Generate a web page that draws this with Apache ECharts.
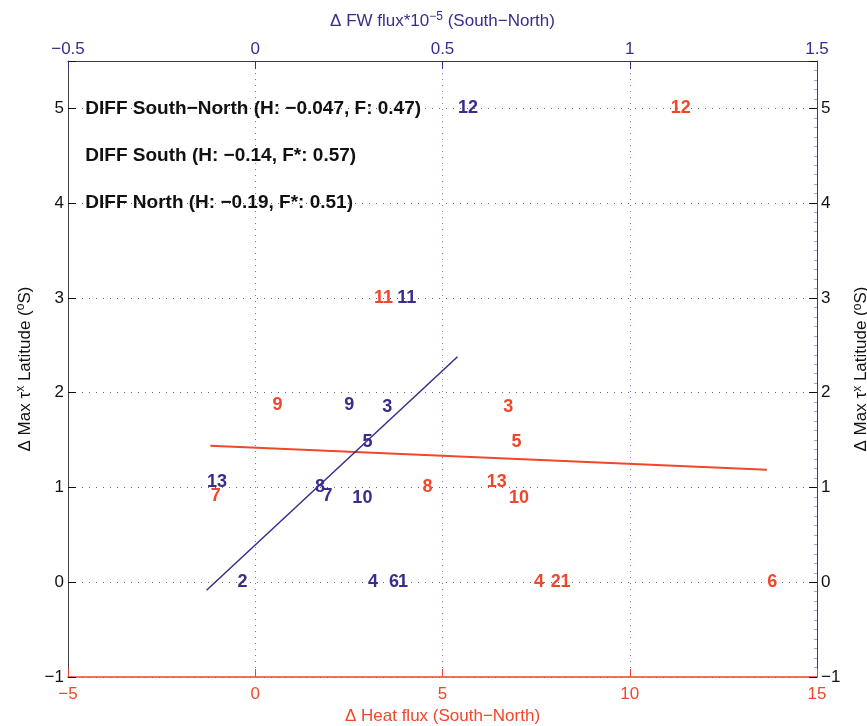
<!DOCTYPE html>
<html><head><meta charset="utf-8">
<script src="https://cdn.jsdelivr.net/npm/echarts@6/dist/echarts.min.js"></script>
<style>html,body{margin:0;padding:0;background:#fff;overflow:hidden}#c{width:867px;height:726px}</style>
</head><body><div id="c"></div><script>
// ---- data ----
const members = ['1','2','3','4','5','6','7','8','9','10','11','12','13'];
const latitudeDiff = [0, 0, 1.85, 0, 1.48, 0, 0.91, 1.0, 1.87, 0.89, 3, 5, 1.06];
const heatFluxDiff = [8.14, 7.88, 6.61, 7.43, 6.83, 13.66, -1.2, 4.45, 0.45, 6.76, 3.16, 11.08, 6.17];
const fwFluxDiff = [0.38, -0.049, 0.338, 0.30, 0.285, 0.356, 0.178, 0.158, 0.236, 0.258, 0.378, 0.54, -0.13];
const heatFitLine = [[-1.2, 1.44], [13.66, 1.186]];
const fwFitLine = [[-0.13, -0.084], [0.54, 2.38]];
const notes = ['DIFF South\u2212North (H: \u22120.047, F: 0.47)', 'DIFF South (H: \u22120.14, F*: 0.57)', 'DIFF North (H: \u22120.19, F*: 0.51)'];
const noteY = [5, 4.5, 4];
const noteX = -4.55;
const heatTicks = {min: -5, max: 15, interval: 5};
const fwTicks = {min: -0.5, max: 1.5, interval: 0.5};
const latTicks = {min: -1, max: 5.5, interval: 1};

const RED = '#f0462a', BLUE = '#372d8c', FONT = 'Liberation Sans, Arial, Helvetica, sans-serif';
const fmt = v => (Math.abs(v - Math.round(v * 2) / 2) > 1e-9) ? '' : String(v).replace('-', '\u2212');
const fmtY = v => Number.isInteger(v) ? String(v).replace('-', '\u2212') : '';

const chart = echarts.init(document.getElementById('c'), null, {renderer: 'canvas'});
const ySide = (pos) => ({
  type: 'value', position: pos, min: latTicks.min, max: latTicks.max, interval: latTicks.interval,
  name: 'Δ Max τ{sup|x} Latitude ({sup|o}S)', nameLocation: 'middle', nameRotate: 90,
  nameGap: pos === 'left' ? 19 : 25,
  nameTextStyle: {color: '#111', fontSize: 17, fontFamily: FONT,
    rich: {sup: {fontSize: 12, fontFamily: FONT, color: '#111', padding: [0, 0, 9, 0]}}},
  axisLine: {show: true, onZero: false, lineStyle: {color: '#444', width: 1}},
  axisTick: {show: true, inside: true, length: 8, lineStyle: {color: '#111'}},
  minorTick: {show: pos === 'right', splitNumber: 10, length: 3, lineStyle: {color: '#a59fd6'}},
  axisLabel: {color: '#111', fontSize: 17, fontFamily: FONT, margin: 4, formatter: fmtY},
  splitLine: {show: pos === 'left', lineStyle: {color: '#666', type: [1, 6], width: 1}}
});

const labelSeries = (xIdx, xs, color) => ({
  type: 'scatter', xAxisIndex: xIdx, yAxisIndex: 0, symbolSize: 1, z: 3,
  itemStyle: {color: 'rgba(0,0,0,0)', opacity: 1},
  data: xs.map((x, i) => [x, latitudeDiff[i], members[i]]),
  label: {show: true, position: 'right', distance: 0, formatter: p => p.data[2],
    color: color, opacity: 1, fontWeight: 'bold', fontSize: 18, fontFamily: FONT}
});

chart.setOption({
  animation: false,
  backgroundColor: '#fff',
  grid: {left: 68, right: 50, top: 61, bottom: 49, containLabel: false, outerBoundsMode: 'none'},
  xAxis: [
    {type: 'value', position: 'bottom', min: heatTicks.min, max: heatTicks.max, interval: heatTicks.interval,
     name: 'Δ Heat flux (South\u2212North)', nameLocation: 'middle', nameGap: 24,
     nameTextStyle: {color: RED, fontSize: 17, fontFamily: FONT},
     axisLine: {show: true, onZero: false, lineStyle: {color: RED, width: 1.5}},
     axisTick: {show: true, inside: true, length: 8, lineStyle: {color: RED}},
     axisLabel: {color: RED, fontSize: 17, fontFamily: FONT, margin: 9, formatter: fmt},
     splitLine: {show: false}},
    {type: 'value', position: 'top', min: fwTicks.min, max: fwTicks.max, interval: fwTicks.interval,
     name: 'Δ FW flux*10{sup|\u22125} (South\u2212North)', nameLocation: 'middle', nameGap: 29,
     nameTextStyle: {color: BLUE, fontSize: 17, fontFamily: FONT,
       rich: {sup: {fontSize: 12, fontFamily: FONT, color: BLUE, padding: [0, 0, 9, 0]}}},
     axisLine: {show: true, onZero: false, lineStyle: {color: BLUE, width: 1}},
     axisTick: {show: true, inside: true, length: 8, lineStyle: {color: BLUE}},
     axisLabel: {color: BLUE, fontSize: 17, fontFamily: FONT, margin: 3, formatter: fmt},
     splitLine: {show: true, lineStyle: {color: '#7d75c4', type: [1, 5], width: 1}}}
  ],
  yAxis: [ySide('left'), ySide('right')],
  series: [
    {type: 'line', xAxisIndex: 0, yAxisIndex: 0, data: heatFitLine, symbol: 'none', silent: true,
     lineStyle: {color: RED, width: 2}, z: 2},
    {type: 'line', xAxisIndex: 1, yAxisIndex: 0, data: fwFitLine, symbol: 'none', silent: true,
     lineStyle: {color: BLUE, width: 1.5}, z: 2},
    labelSeries(0, heatFluxDiff, RED),
    labelSeries(1, fwFluxDiff, BLUE),
    {type: 'scatter', xAxisIndex: 0, yAxisIndex: 0, symbolSize: 1, z: 3,
     itemStyle: {color: 'rgba(0,0,0,0)', opacity: 1},
     data: notes.map((t, i) => [noteX, noteY[i], t]),
     label: {show: true, position: 'right', distance: 0, formatter: p => p.data[2],
       color: '#111', opacity: 1, fontWeight: 'bold', fontSize: 19, fontFamily: FONT}}
  ]
});
</script></body></html>
